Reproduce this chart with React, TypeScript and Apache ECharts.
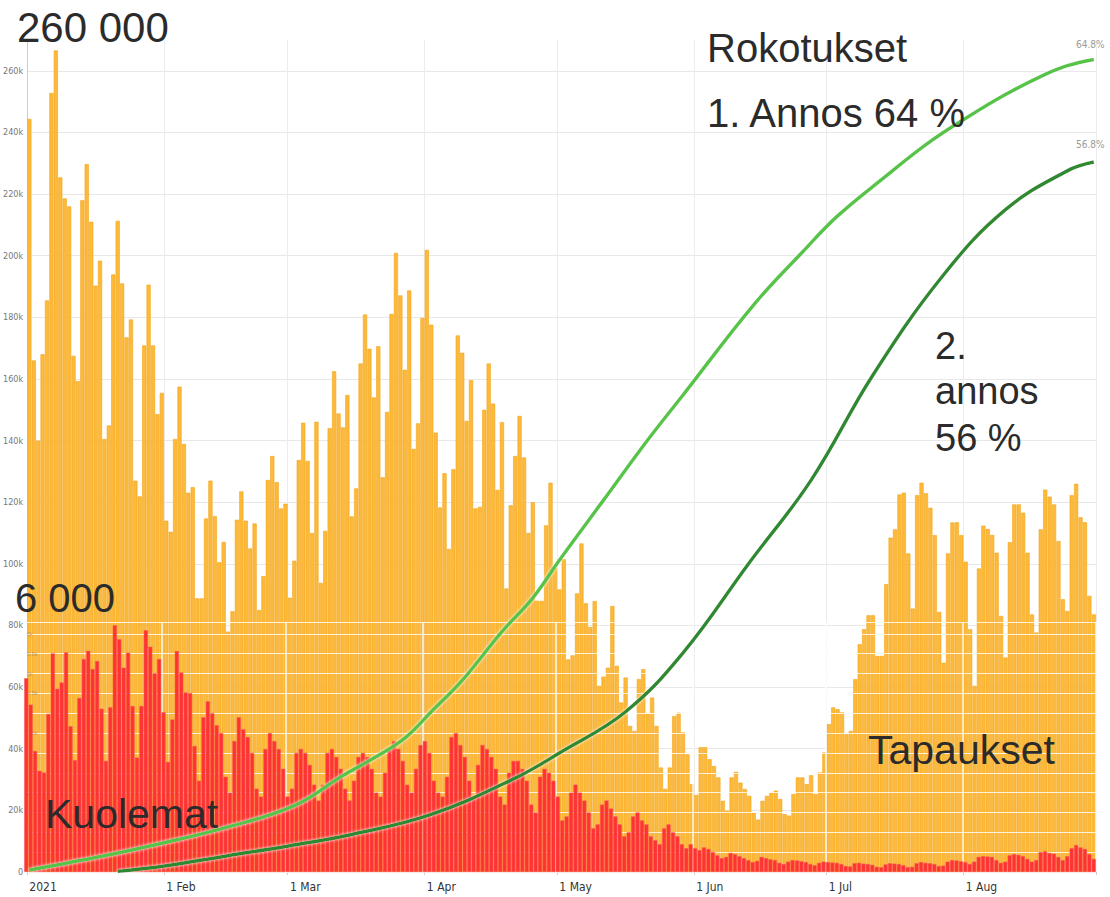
import React, { useEffect, useRef } from "react";
import * as echarts from "echarts";

// Daily new cases (thousands), 1 Jan – 30 Aug 2021
const casesJan = [244.4, 166, 140, 168, 185.5, 252.8, 266.6, 225.4, 218.6, 216, 167.5, 159.3, 218, 229.7, 211, 190.3, 198.4, 140.5, 144.9, 193.9, 211.3, 191, 173.5, 179.3, 127, 121.9, 170.9, 190.6, 170.9, 148.6, 155.5];
const casesFeb = [114, 110.4, 140.5, 157.5, 138.9, 123.1, 124.9, 88.8, 88.8, 114.7, 127, 115.5, 100.5, 107.1, 78, 84.6, 114.3, 123.5, 114, 105, 113.1, 85, 96, 127.2, 135, 126.5, 118, 119.5];
const casesMar = [89, 101, 133.7, 145.8, 133.4, 110, 146.1, 93.8, 110.7, 144, 162.5, 148.8, 144.3, 154.8, 115.4, 124.5, 165, 180.9, 169.8, 154, 170.6, 128.1, 149.3, 181.1, 200.9, 187.1, 163, 188.7, 137.3, 145.6, 179.8];
const casesApr = [201.9, 177.6, 142.6, 118.3, 129.4, 104.8, 130.7, 174.1, 168.5, 146.4, 159.6, 118, 118.5, 150, 165, 152, 124, 146, 92, 119, 135, 148, 134.5, 110, 120, 88, 88, 112.5, 126.3, 98.7];
const casesMay = [91.7, 101.5, 69, 70.3, 90.4, 106.6, 87.2, 79.5, 87.9, 60.4, 63.4, 66.3, 86.3, 66.9, 55, 63.1, 47.4, 45.8, 62.6, 65.8, 51.4, 56.6, 47.4, 33.9, 27, 33.9, 50.6, 51.7, 45.3, 38.2, 28.5];
const casesJun = [25, 40.5, 40.5, 36.6, 34.4, 30.7, 23.1, 19.9, 30.7, 32.5, 29, 26.9, 24.7, 19.3, 17, 23.1, 24.7, 25.8, 26.4, 23.7, 18.8, 18.3, 25.3, 30.7, 30.7, 28.5, 31.4, 25.3, 32.3, 38.8];
const casesJul = [48, 53.4, 52.8, 51.8, 44.7, 45.8, 62.6, 73.9, 78.8, 83.3, 83.3, 70.1, 70.1, 93.4, 108.5, 111.2, 122.5, 123.1, 103.4, 85.5, 122.3, 126.3, 122.9, 118.2, 109.3, 84.4, 67.9, 103.4, 113.4, 113.5, 109.3];
const casesAug = [100.7, 78.8, 60.4, 98.5, 112.4, 111.3, 109.4, 103.6, 83.1, 69.6, 107, 119.3, 119.3, 116.6, 103.6, 83.6, 77.7, 111.2, 124.1, 121.8, 119.3, 107.4, 88.5, 84.7, 122.3, 126, 115.1, 113.5, 89.6, 83.6];

// Daily deaths
const deathsJan = [4883, 4217, 3050, 2550, 2508, 3983, 5508, 4617, 4775, 5533, 3675, 2817, 4383, 5367, 5575, 5117, 5317, 4117, 2800, 4150, 6217, 5867, 5150, 5525, 4183, 2883, 4183, 6092, 5675, 5008, 5367];
const deathsFeb = [4025, 2775, 3842, 5567, 5025, 4525, 4508, 3175, 2300, 3900, 4300, 4000, 3700, 3500, 2400, 2000, 3300, 3900, 3600, 3400, 3000, 2100, 1900, 3100, 3500, 3300, 3100, 2600];
const deathsMar = [1900, 2100, 3000, 3100, 3000, 2700, 2200, 1800, 2200, 3000, 3100, 2900, 2600, 2100, 1800, 2300, 2900, 3000, 2900, 2600, 2000, 1900, 2500, 3100, 3300, 3100, 2800, 2200, 2000, 2600, 3200];
const deathsApr = [3300, 3000, 2300, 2000, 1900, 2400, 3400, 3500, 3200, 2900, 2300, 1900, 2700, 3200, 3100, 2900, 2600, 1900, 1700, 2500, 2800, 2800, 2600, 2300, 1700, 1500, 2400, 2600, 2500, 2300];
const deathsMay = [1900, 1300, 1400, 2000, 2200, 2000, 1800, 1500, 1100, 1200, 1700, 1800, 1600, 1400, 1200, 900, 1000, 1400, 1500, 1300, 1200, 900, 800, 700, 1100, 1200, 1000, 900, 700, 600, 700];
const deathsJun = [600, 550, 620, 580, 500, 420, 350, 380, 480, 450, 400, 350, 300, 250, 280, 380, 350, 320, 300, 230, 200, 260, 300, 290, 270, 250, 200, 170, 230, 260];
const deathsJul = [250, 240, 230, 200, 150, 140, 220, 230, 210, 200, 180, 130, 120, 190, 220, 210, 200, 170, 120, 130, 220, 250, 230, 220, 200, 150, 160, 260, 300, 290, 270];
const deathsAug = [250, 200, 260, 380, 400, 390, 380, 300, 230, 260, 420, 450, 430, 400, 330, 260, 300, 500, 520, 480, 460, 380, 300, 400, 600, 680, 620, 580, 450, 330];

// Vaccination (% of population), read at selected days (day index from 1 Jan)
const dose1Days = [0, 17, 30, 44, 60, 71, 78, 85, 91, 98, 107, 114, 120, 130, 140, 148, 164, 175, 183, 194, 203, 212, 221, 230, 235, 241];
const dose1Pct = [0.16, 1.3, 2.3, 3.5, 5.3, 7.7, 9.1, 10.7, 12.8, 15.3, 19.2, 21.9, 24.9, 29.7, 34.5, 38.1, 45.3, 49.5, 52.4, 55.6, 58.1, 60.2, 62.1, 63.7, 64.4, 64.9];
const dose2Days = [20, 31, 45, 59, 73, 91, 110, 120, 135, 148, 163, 177, 191, 207, 221, 235, 241];
const dose2Pct = [0.05, 0.5, 1.3, 2.1, 3.0, 4.6, 7.5, 9.5, 12.8, 17.5, 24.7, 31.3, 39.7, 47.7, 52.9, 56.0, 56.7];

const monthNames = ["Jan", "Feb", "Mar", "Apr", "May", "Jun", "Jul", "Aug", "Sep", "Oct", "Nov", "Dec"];

const cases = [...casesJan, ...casesFeb, ...casesMar, ...casesApr, ...casesMay, ...casesJun, ...casesJul, ...casesAug];
const deaths = [...deathsJan, ...deathsFeb, ...deathsMar, ...deathsApr, ...deathsMay, ...deathsJun, ...deathsJul, ...deathsAug];

const dates: Date[] = cases.map((_, i) => new Date(Date.UTC(2021, 0, 1 + i)));
const categories = dates.map((d) => d.toISOString().slice(0, 10));
const isMonthStart = (i: number) => dates[i] && dates[i].getUTCDate() === 1;
const monthLabel = (i: number) => {
  const d = dates[i];
  if (d.getUTCMonth() === 0) return "2021";
  return "1 " + monthNames[d.getUTCMonth()];
};

const bigFont = '"Liberation Sans", Arial, sans-serif';
const narrowFont = '"Liberation Sans Narrow", "DejaVu Sans Condensed", "Liberation Sans", Arial, sans-serif';
const textColor = "#2b2b2b";

export default function App() {
  const ref = useRef<HTMLDivElement>(null);
  useEffect(() => {
    if (!ref.current) return;
    const chart = echarts.init(ref.current, null, { renderer: "svg" });
    const bigText = (text: string, x: number, y: number, size: number) => ({
      type: "text",
      x,
      y,
      z: 100,
      style: { text, fontSize: size, fontFamily: bigFont, fill: textColor, verticalAlign: "middle", align: "left" },
    });
    chart.setOption({
      animation: false,
      backgroundColor: "#ffffff",
      grid: [
        { left: 24, right: 14, top: 40, bottom: 25 },
        { left: 24, right: 14, top: 622, bottom: 25 },
      ],
      xAxis: [
        {
          type: "category",
          gridIndex: 0,
          data: categories,
          boundaryGap: true,
          axisLine: { show: true, lineStyle: { color: "#d8d8d8" } },
          axisTick: { show: true, length: 3, interval: (i: number) => isMonthStart(i), lineStyle: { color: "#ccc" } },
          axisLabel: {
            interval: (i: number) => isMonthStart(i),
            formatter: (_v: string, i: number) => monthLabel(i),
            align: "left",
            margin: 9,
            fontSize: 12,
            color: "#333",
            fontFamily: narrowFont,
          },
          splitLine: { show: true, interval: (i: number) => isMonthStart(i), lineStyle: { color: "#ececec", width: 1 } },
        },
        {
          type: "category",
          gridIndex: 1,
          data: categories,
          boundaryGap: true,
          z: 3,
          axisLine: { show: false },
          axisTick: { show: false },
          axisLabel: { show: false },
          splitLine: { show: true, interval: (i: number) => isMonthStart(i), lineStyle: { color: "rgba(255,255,255,0.9)", width: 1.5 } },
        },
      ],
      yAxis: [
        {
          type: "value",
          gridIndex: 0,
          min: 0,
          max: 270,
          interval: 20,
          axisLine: { show: true, lineStyle: { color: "#cccccc" } },
          axisTick: { show: false },
          axisLabel: {
            showMaxLabel: false,
            fontSize: 9,
            color: "#777",
            margin: 4,
            fontFamily: narrowFont,
            formatter: (v: number) => (v === 0 ? "0" : v + "k"),
          },
          splitLine: { show: true, showMaxLine: false, lineStyle: { color: "#e8e8e8" } },
        },
        { type: "value", gridIndex: 0, min: 0, max: 66.45, show: false },
        {
          type: "value",
          gridIndex: 1,
          min: 0,
          max: 6300,
          interval: 500,
          z: 3,
          axisLine: { show: false },
          axisTick: { show: false },
          axisLabel: {
            inside: true,
            showMaxLabel: false,
            fontSize: 5.5,
            color: "rgba(120,120,120,0.55)",
            margin: 3,
            formatter: (v: number) => (v === 0 ? "" : v < 1000 ? String(v) : v / 1000 + "k"),
          },
          splitLine: { show: true, lineStyle: { color: "rgba(255,255,255,0.8)", width: 1.2 } },
        },
      ],
      series: [
        {
          name: "Tapaukset",
          type: "bar",
          xAxisIndex: 0,
          yAxisIndex: 0,
          data: cases,
          barCategoryGap: "6%",
          z: 2,
          itemStyle: { color: "#fcb93a", borderColor: "#f4a51c", borderWidth: 0.6 },
        },
        {
          name: "Kuolemat",
          type: "bar",
          xAxisIndex: 1,
          yAxisIndex: 2,
          data: deaths,
          barCategoryGap: "8%",
          z: 4,
          itemStyle: { color: "#fe3434", borderColor: "#ff5a5a", borderWidth: 0.5 },
        },
        {
          name: "1. annos",
          type: "line",
          xAxisIndex: 0,
          yAxisIndex: 1,
          data: dose1Days.map((d, i) => [d, dose1Pct[i]]),
          symbol: "none",
          smooth: 0.4,
          z: 6,
          lineStyle: { color: "#57c447", width: 3.5, shadowColor: "rgba(255,255,255,0.95)", shadowBlur: 3 },
        },
        {
          name: "2. annos",
          type: "line",
          xAxisIndex: 0,
          yAxisIndex: 1,
          data: dose2Days.map((d, i) => [d, dose2Pct[i]]),
          symbol: "none",
          smooth: 0.4,
          z: 6,
          lineStyle: { color: "#2d8a2d", width: 3.5, shadowColor: "rgba(255,255,255,0.95)", shadowBlur: 3 },
        },
      ],
      graphic: [
        bigText("260 000", 17, 27, 42),
        bigText("6 000", 15, 598, 40),
        bigText("Rokotukset", 707, 48, 40),
        bigText("1. Annos 64 %", 707, 113, 40),
        bigText("2.", 935, 346, 38),
        bigText("annos", 935, 391, 38),
        bigText("56 %", 935, 438, 38),
        bigText("Tapaukset", 868, 750, 41),
        bigText("Kuolemat", 45, 814, 41),
        {
          type: "text",
          x: 1076,
          y: 44,
          z: 100,
          style: { text: "64.8%", fontSize: 10, fontFamily: narrowFont, fill: "#9a9a9a", verticalAlign: "middle" },
        },
        {
          type: "text",
          x: 1076,
          y: 144,
          z: 100,
          style: { text: "56.8%", fontSize: 10, fontFamily: narrowFont, fill: "#9a9a9a", verticalAlign: "middle" },
        },
      ],
    });
    return () => chart.dispose();
  }, []);
  return <div ref={ref} style={{ position: "fixed", left: 0, top: 0, width: 1110, height: 897 }} />;
}
